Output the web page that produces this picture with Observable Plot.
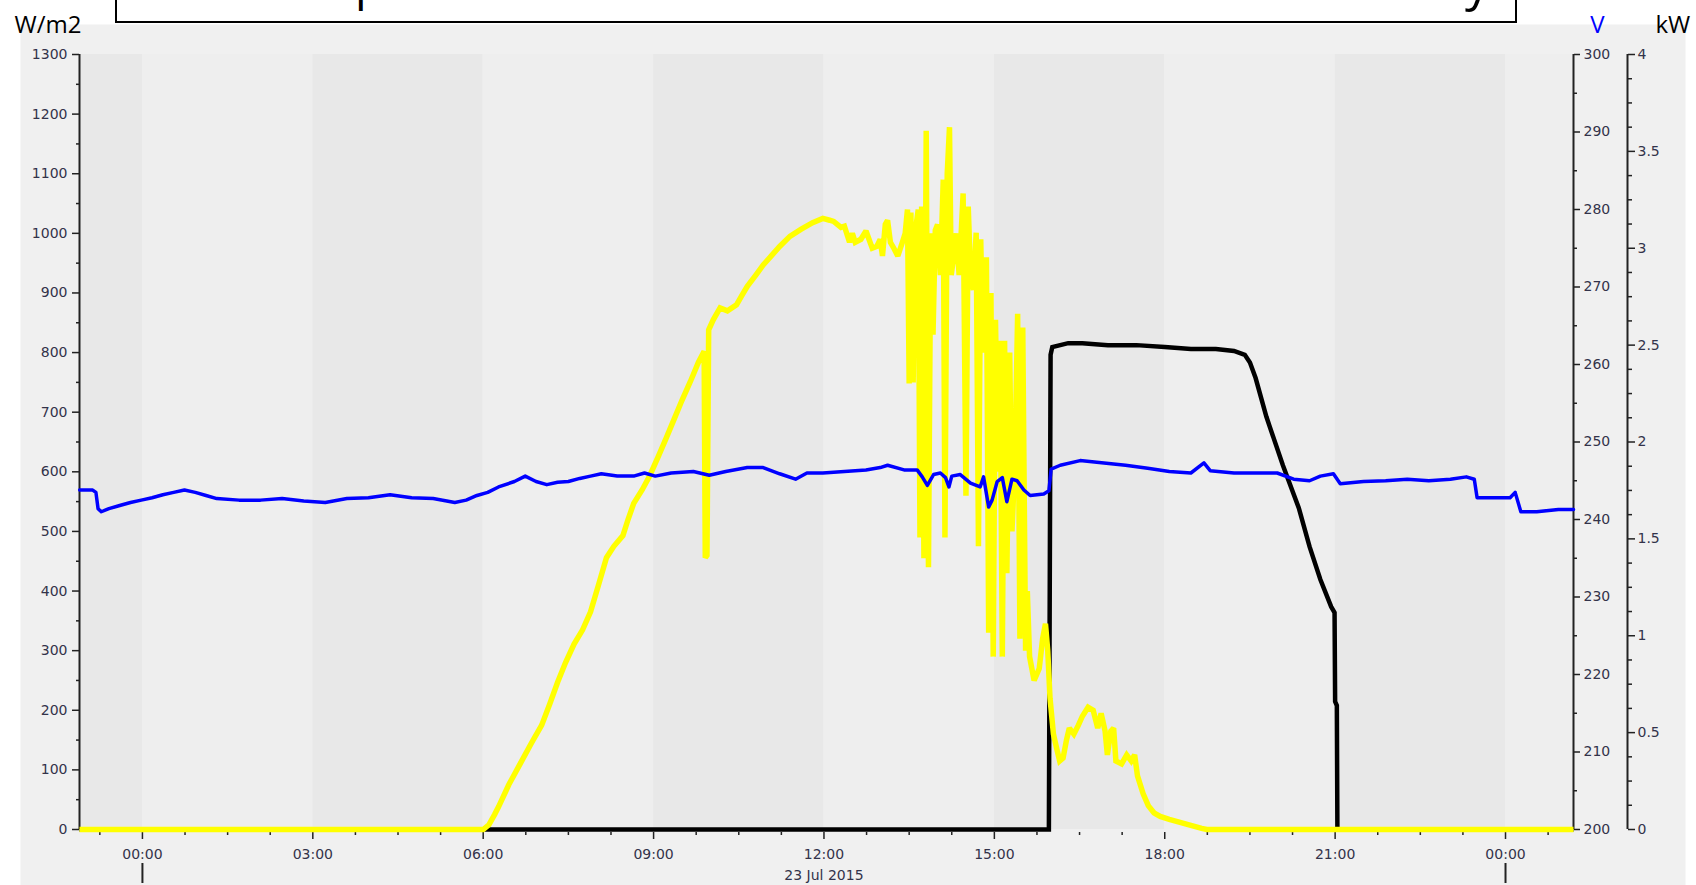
<!DOCTYPE html>
<html>
<head>
<meta charset="utf-8">
<script src="https://cdn.jsdelivr.net/npm/d3@7"></script>
<script src="https://cdn.jsdelivr.net/npm/@observablehq/plot@0.6"></script>
<style>
  html, body { margin: 0; padding: 0; background: #ffffff; }
  body { width: 1696px; height: 885px; position: relative; overflow: hidden; }
  #chart { position: absolute; left: 0; top: 0; }
  #titlebox { position: absolute; left: 115px; top: -21px; width: 1398px; height: 40px;
              border: 2px solid #000; background: #fff; overflow: hidden; }
  #titlebox svg { position: absolute; left: 0; top: 0; }
</style>
</head>
<body>
<div id="chart"></div>
<div id="titlebox">
  <svg width="1398" height="40">
    <text x="238" y="19" font-family="Open Sans" font-size="46" fill="#000">p</text>
    <text x="1348" y="19" font-family="Open Sans" font-size="50" fill="#000">y</text>
  </svg>
</div>
<script>
// ---- Data (hours relative to 23 Jul 2015 00:00) ----
const xDomainHours = [-1.108, 25.197];

// Irradiance, W/m2 (left axis)
const irrHours = [-1.108, 6.0, 6.1, 6.2, 6.27, 6.45, 6.65, 6.85, 7.03, 7.17, 7.31, 7.45, 7.6, 7.75, 7.89, 8.03, 8.17, 8.3, 8.46, 8.55, 8.65, 8.8, 8.93, 9.08, 9.22, 9.36, 9.5, 9.65, 9.79, 9.89, 9.91, 9.94, 9.97, 10.05, 10.17, 10.3, 10.46, 10.55, 10.65, 10.8, 10.93, 11.08, 11.22, 11.4, 11.6, 11.8, 11.98, 12.1, 12.17, 12.3, 12.36, 12.45, 12.5, 12.55, 12.65, 12.74, 12.85, 12.93,
  12.99, 13.03, 13.08, 13.12, 13.17, 13.23, 13.3, 13.38, 13.43, 13.47, 13.5, 13.53, 13.57, 13.61, 13.66, 13.69, 13.72, 13.76, 13.8, 13.84, 13.88, 13.92, 13.96, 14.0, 14.05, 14.1, 14.13, 14.17, 14.21, 14.24, 14.29, 14.33, 14.38, 14.45, 14.5, 14.54, 14.58, 14.63, 14.68, 14.72, 14.76, 14.8, 14.86, 14.9, 14.94, 14.98, 15.02, 15.06, 15.1, 15.14, 15.18, 15.22, 15.27, 15.31, 15.36, 15.41, 15.45, 15.5, 15.55, 15.58, 15.62, 15.7, 15.79, 15.85, 15.9, 15.94, 15.98, 16.04, 16.1, 16.15, 16.21, 16.27, 16.32, 16.4, 16.48, 16.55, 16.65, 16.74, 16.82, 16.88, 16.95, 16.99, 17.05, 17.1, 17.14, 17.24, 17.33, 17.41, 17.47, 17.52, 17.62, 17.71, 17.81, 17.92, 18.08, 18.27, 18.46, 18.65, 18.74, 25.197];
const irrValues = [0, 0, 8, 25, 38, 75, 110, 145, 175, 210, 247, 280, 311, 335, 365, 410, 456, 475, 493, 520, 547, 570, 593, 625, 656, 688, 720, 752, 784, 802, 456, 460, 838, 855, 875, 870, 880, 895, 911, 930, 947, 963, 978, 995, 1007, 1018, 1025, 1022, 1020, 1010, 1012, 985, 1000, 985, 990, 1004, 975, 978,
  990, 962, 1015, 1022, 985, 975, 962, 985, 1000, 1040, 748, 1035, 750, 1005, 1040, 490, 1045, 455, 1172, 440, 1000, 830, 1005, 1015, 930, 1090, 490, 1100, 1178, 930, 965, 1000, 930, 1067, 560, 1045, 935, 905, 1001, 475, 990, 800, 960, 330, 900, 290, 855, 600, 820, 290, 820, 430, 800, 500, 610, 865, 320, 842, 300, 400, 290, 250, 270, 320, 345, 300, 220, 160, 135, 115, 120, 150, 170, 160, 175, 190, 205, 200, 170, 195, 165, 125, 165, 170, 115, 110, 125, 115, 125, 90, 60, 40, 28, 22, 17, 12, 7, 2, 0, 0];

// Voltage, V (middle axis, 200-300)
const voltHours = [-1.105, -0.876, -0.819, -0.781, -0.724, -0.59, -0.40, -0.21, -0.02, 0.17, 0.36, 0.55, 0.74, 0.93, 1.12, 1.31, 1.70, 2.08, 2.46, 2.84, 3.22, 3.60, 3.98, 4.36, 4.74, 5.12, 5.50, 5.70, 5.89, 6.08, 6.27, 6.55, 6.74, 6.93, 7.12, 7.31, 7.50, 7.70, 7.89, 8.08, 8.36, 8.65, 8.84, 9.03, 9.31, 9.70, 9.98, 10.27, 10.65, 10.93, 11.22, 11.50, 11.70, 11.98, 12.36, 12.74, 12.99, 13.12, 13.41, 13.64, 13.73, 13.82, 13.93, 14.05, 14.14, 14.20, 14.25, 14.40, 14.58, 14.75, 14.81, 14.90, 14.96, 15.05, 15.14, 15.22, 15.31, 15.40, 15.52, 15.63, 15.87, 15.96, 16.00, 16.16, 16.51, 16.93, 17.31, 17.70, 18.08, 18.46, 18.69, 18.80, 19.22, 19.60, 19.98, 20.27, 20.55, 20.74, 20.97, 21.09, 21.50, 21.89, 22.27, 22.65, 23.03, 23.31, 23.45, 23.50, 23.79, 24.08, 24.17, 24.27, 24.55, 24.93, 25.197];
const voltValues = [243.8, 243.8, 243.5, 241.4, 241.0, 241.4, 241.8, 242.2, 242.5, 242.8, 243.2, 243.5, 243.8, 243.5, 243.1, 242.7, 242.5, 242.5, 242.7, 242.4, 242.2, 242.7, 242.8, 243.2, 242.8, 242.7, 242.2, 242.5, 243.1, 243.5, 244.2, 244.9, 245.6, 244.9, 244.5, 244.8, 244.9, 245.3, 245.6, 245.9, 245.6, 245.6, 246.0, 245.6, 246.0, 246.2, 245.7, 246.2, 246.7, 246.7, 245.9, 245.2, 246.0, 246.0, 246.2, 246.4, 246.7, 247.0, 246.4, 246.4, 245.5, 244.4, 245.8, 246.0, 245.4, 244.2, 245.6, 245.8, 244.7, 244.2, 245.5, 241.6, 242.5, 244.9, 245.4, 242.3, 245.2, 245.0, 243.8, 243.1, 243.3, 243.7, 246.5, 247.0, 247.6, 247.3, 247.0, 246.6, 246.2, 246.0, 247.3, 246.3, 246.0, 246.0, 246.0, 245.2, 245.0, 245.6, 245.9, 244.6, 244.9, 245.0, 245.2, 245.0, 245.2, 245.5, 245.2, 242.8, 242.8, 242.8, 243.5, 241.0, 241.0, 241.3, 241.3];

// Power, kW (right axis, 0-4)
const powerHours = [-1.108, 15.96, 15.99, 16.02, 16.3, 16.55, 17.0, 17.5, 18.0, 18.46, 18.9, 19.22, 19.41, 19.5, 19.6, 19.79, 20.08, 20.36, 20.55, 20.74, 20.93, 20.99, 21.0, 21.03, 21.04, 25.197];
const powerValues = [0, 0, 2.45, 2.49, 2.51, 2.51, 2.50, 2.50, 2.49, 2.48, 2.48, 2.47, 2.45, 2.41, 2.33, 2.13, 1.88, 1.66, 1.46, 1.29, 1.15, 1.12, 0.66, 0.64, 0, 0];

// Tick values
const leftMajor = d3.range(0, 1301, 100);
const leftMinor = d3.range(50, 1300, 100);
const voltMajor = d3.range(200, 301, 10);
const voltMinor = d3.range(205, 300, 10);
const kwMajor = d3.range(0, 4.01, 0.5);
const kwMinor = d3.range(0, 4.001, 0.125).filter(k => Math.abs(k * 2 - Math.round(k * 2)) > 1e-6);
const xMajorHours = d3.range(0, 24.01, 3);
const xMinorHours = d3.range(-0.75, 25.0, 0.75).filter(h => Math.abs(h / 3 - Math.round(h / 3)) > 1e-6);
const dayHours = [0, 24];
const dateLabel = { hour: 12, text: "23 Jul 2015" };
const bandDarkStarts = [-1.108, 3, 9, 15, 21];
const bandLightStarts = [0, 6, 12, 18, 24];

// ---- Helpers ----
const T = h => new Date(Date.UTC(2015, 6, 23) + h * 3600e3);
const vToY = v => (v - 200) * 13;   // 200..300 V -> 0..1300
const kToY = k => k * 325;          // 0..4 kW -> 0..1300
const bandEnd = h => Math.min(h < 0 ? 0 : h + 3, xDomainHours[1]);

const irr = irrHours.map((h, i) => ({ t: T(h), y: irrValues[i] }));
const volt = voltHours.map((h, i) => ({ t: T(h), y: vToY(voltValues[i]) }));
const power = powerHours.map((h, i) => ({ t: T(h), y: kToY(powerValues[i]) }));
const darkBands = bandDarkStarts.map(h => ({ x1: T(h), x2: T(bandEnd(h)) }));
const lightBands = bandLightStarts.map(h => ({ x1: T(h), x2: T(bandEnd(h)) }));

const axisColor = "#222";
const tickFont = { fontSize: 14, fontFamily: "DejaVu Sans", fill: "#33334a" };
const kFmt = d => String(+(d / 325).toFixed(3));

const plot = Plot.plot({
  width: 1696,
  height: 885,
  marginLeft: 79,
  marginRight: 123,
  marginTop: 54,
  marginBottom: 56,
  x: { type: "utc", domain: [T(xDomainHours[0]), T(xDomainHours[1])], label: null },
  y: { domain: [0, 1300], label: null },
  style: { background: "transparent", fontFamily: "DejaVu Sans", fontSize: "14px", color: "#33334a", overflow: "visible" },
  marks: [
    // outer panel background
    Plot.frame({ fill: "#f0f0f0", stroke: null, insetLeft: -59, insetTop: -30, insetRight: -112, insetBottom: -56 }),
    // alternating 3-hour bands
    Plot.rect(darkBands, { x1: "x1", x2: "x2", y1: 0, y2: 1300, fill: "#e8e8e8" }),
    Plot.rect(lightBands, { x1: "x1", x2: "x2", y1: 0, y2: 1300, fill: "#eeeeee" }),

    // axis lines
    Plot.ruleX([T(xDomainHours[0])], { stroke: axisColor, strokeWidth: 2 }),
    Plot.ruleX([T(xDomainHours[1])], { stroke: axisColor, strokeWidth: 2 }),
    Plot.ruleX([T(xDomainHours[1])], { stroke: axisColor, strokeWidth: 2, dx: 54 }),

    // left axis W/m2
    Plot.axisY(leftMajor, { anchor: "left", tickSize: 7, tickPadding: 5, stroke: axisColor, strokeWidth: 1.5, tickFormat: d => String(d), label: null, ...tickFont }),
    Plot.axisY(leftMinor, { anchor: "left", tickSize: 3, stroke: axisColor, strokeWidth: 1.5, tickFormat: () => "", label: null }),
    // V axis
    Plot.axisY(voltMajor.map(vToY), { anchor: "right", tickSize: 6, tickPadding: 4, stroke: axisColor, strokeWidth: 1.5, tickFormat: d => String(Math.round(d / 13 + 200)), label: null, ...tickFont }),
    Plot.axisY(voltMinor.map(vToY), { anchor: "right", tickSize: 3, stroke: axisColor, strokeWidth: 1.5, tickFormat: () => "", label: null }),
    // kW axis
    Plot.axisY(kwMajor.map(kToY), { anchor: "right", dx: 54, tickSize: 7, tickPadding: 3, stroke: axisColor, strokeWidth: 1.5, tickFormat: kFmt, label: null, ...tickFont }),
    Plot.axisY(kwMinor.map(kToY), { anchor: "right", dx: 54, tickSize: 4, stroke: axisColor, strokeWidth: 1.5, tickFormat: () => "", label: null }),

    // x axis
    Plot.axisX(xMajorHours.map(T), { anchor: "bottom", dy: 3, tickSize: 7, tickPadding: 10, stroke: axisColor, strokeWidth: 1.5, tickFormat: d3.utcFormat("%H:%M"), label: null, ...tickFont }),
    Plot.axisX(xMinorHours.map(T), { anchor: "bottom", dy: 3, tickSize: 3, stroke: axisColor, strokeWidth: 1.5, tickFormat: () => "", label: null }),
    Plot.axisX(dayHours.map(T), { anchor: "bottom", dy: 34, tickSize: 20, stroke: axisColor, strokeWidth: 2, tickFormat: () => "", label: null }),
    Plot.text([dateLabel], { x: d => T(d.hour), text: "text", frameAnchor: "bottom", dy: 50, ...tickFont }),

    // unit labels
    Plot.text(["W/m2"], { frameAnchor: "top-left", dx: -65, dy: -39, textAnchor: "start", fontSize: 24, fontFamily: "Open Sans", fill: "#000" }),
    Plot.text(["V"], { frameAnchor: "top-right", dx: 24, dy: -39, textAnchor: "middle", fontSize: 24, fontFamily: "Open Sans", fill: "#0000ff" }),
    Plot.text(["kW"], { frameAnchor: "top-right", dx: 82, dy: -39, textAnchor: "start", fontSize: 24, fontFamily: "Open Sans", fill: "#000" }),

    // series
    Plot.line(power, { x: "t", y: "y", stroke: "#000000", strokeWidth: 4.5, strokeLinejoin: "miter", strokeMiterlimit: 2, strokeLinecap: "butt" }),
    Plot.line(irr, { x: "t", y: "y", stroke: "#ffff00", strokeWidth: 5.5, strokeLinejoin: "miter", strokeMiterlimit: 2, strokeLinecap: "butt" }),
    Plot.line(volt, { x: "t", y: "y", stroke: "#0000ff", strokeWidth: 3.5, strokeLinejoin: "round" })
  ]
});
document.getElementById("chart").appendChild(plot);
</script>
</body>
</html>
